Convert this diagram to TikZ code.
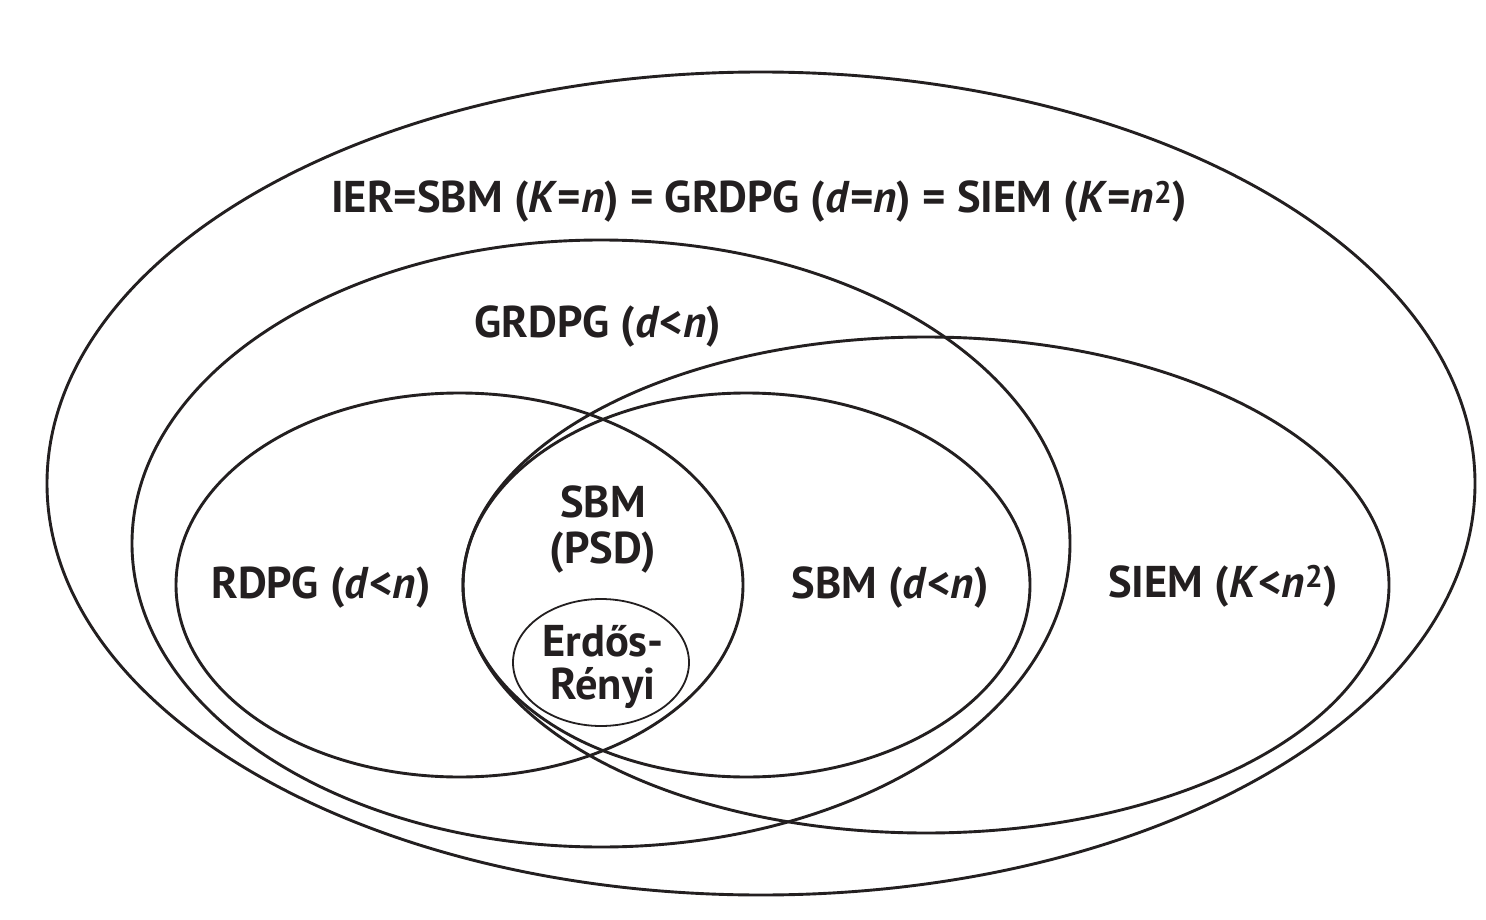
\documentclass[tikz,border=0pt]{standalone}
\usepackage{fontspec}
\setmainfont{PT Sans}
\definecolor{ink}{HTML}{231F20}
\begin{document}
\begin{tikzpicture}[x=1pt,y=-1pt,
  ring/.style={draw=ink,line width=2.9pt},
  thinring/.style={draw=ink,line width=1.8pt},
  lbl/.style={anchor=base,inner sep=0pt,text=ink,font=\fontsize{44.5}{48}\selectfont\bfseries}]
\useasboundingbox[fill=white] (0,0) rectangle (1486,920);
% ellipses
\draw[ring] (761,483.5) ellipse [x radius=714pt, y radius=411.5pt];
\draw[ring] (601,543.5) ellipse [x radius=469pt, y radius=303.5pt];
\draw[ring] (926,585) ellipse [x radius=463pt, y radius=248pt];
\draw[ring] (459.5,585) ellipse [x radius=283.5pt, y radius=192pt];
\draw[ring] (746.5,585) ellipse [x radius=283.5pt, y radius=192pt];
\draw[thinring] (601,662.5) ellipse [x radius=88pt, y radius=63.5pt];
% labels
\node[lbl] (ier) at (759,213) {IER=SBM (\textit{K}=\textit{n}) = GRDPG (\textit{d}=\textit{n}) = SIEM (\textit{K}=\textit{n}\textsuperscript{2})};
\node[lbl] (grdpg) at (598,337) {GRDPG (\textit{d}<\textit{n})};
\node[lbl] (rdpg) at (321,598) {RDPG (\textit{d}<\textit{n})};
\node[lbl] (sbmd) at (890,598) {SBM (\textit{d}<\textit{n})};
\node[lbl] (siem) at (1223,597) {SIEM (\textit{K}<\textit{n}\textsuperscript{2})};
\node[lbl] (psdA) at (603,517) {SBM};
\node[lbl] (psdB) at (603,563) {(PSD)};
\node[lbl] (erA) at (603,656) {Erdős-};
\node[lbl] (erB) at (603,699) {Rényi};
\end{tikzpicture}
\end{document}
